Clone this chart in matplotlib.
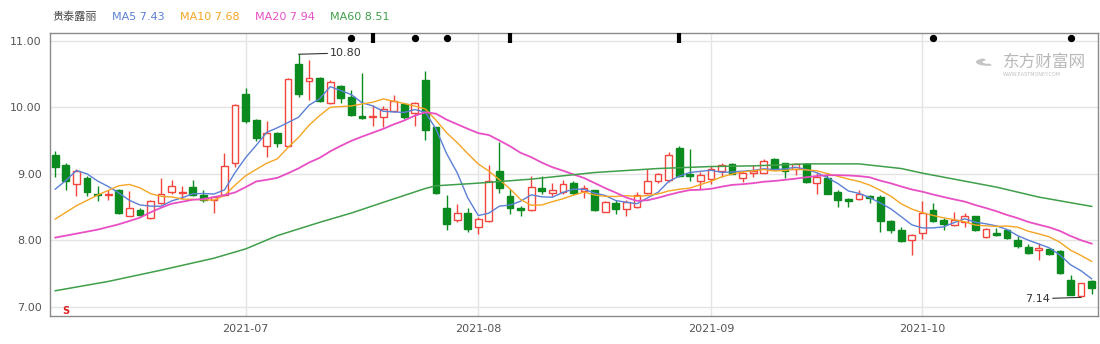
import numpy as np
import pandas as pd
import matplotlib
matplotlib.use("Agg")
import matplotlib.pyplot as plt
import matplotlib.patches as patches

plt.rcParams['font.family'] = ['DejaVu Sans', 'Noto Sans CJK SC']

# 交易日（2021-06-04 ~ 2021-11-01，去掉节假日）
holidays = ['2021-06-14', '2021-09-20', '2021-09-21', '2021-10-01',
            '2021-10-04', '2021-10-05', '2021-10-06', '2021-10-07']
dates = pd.bdate_range('2021-06-04', '2021-11-01')
dates = dates[~dates.isin(pd.to_datetime(holidays))]

opens = [9.29, 9.14, 8.85, 8.94, 8.70, 8.68, 8.76, 8.37, 8.45, 8.33,
         8.56, 8.72, 8.71, 8.80, 8.68, 8.60, 8.68, 9.17, 10.20, 9.81,
         9.42, 9.61, 9.42, 10.66, 10.40, 10.45, 10.06, 10.32, 10.16, 9.87,
         9.85, 9.86, 9.95, 10.05, 9.91, 10.41, 9.70, 8.48, 8.30, 8.41,
         8.20, 8.29, 9.04, 8.66, 8.49, 8.46, 8.78, 8.71, 8.73, 8.86,
         8.74, 8.75, 8.43, 8.56, 8.47, 8.50, 8.71, 8.89, 8.90, 9.39,
         8.99, 8.89, 8.92, 9.04, 9.15, 8.94, 9.01, 9.02, 9.22, 9.16,
         9.08, 9.15, 8.86, 8.93, 8.73, 8.62, 8.62, 8.67, 8.65, 8.29,
         8.16, 8.01, 8.11, 8.46, 8.30, 8.23, 8.28, 8.36, 8.05, 8.11,
         8.16, 8.00, 7.90, 7.86, 7.87, 7.84, 7.40, 7.16, 7.38]
highs = [9.34, 9.16, 9.08, 8.96, 8.82, 8.76, 8.77, 8.74, 8.48, 8.61,
         8.94, 8.90, 8.81, 8.90, 8.75, 8.66, 9.32, 10.05, 10.29, 9.82,
         9.79, 9.63, 10.44, 10.80, 10.72, 10.46, 10.42, 10.34, 10.26, 10.52,
         10.03, 10.02, 10.18, 10.06, 10.08, 10.55, 9.71, 8.68, 8.55, 8.48,
         8.35, 9.14, 9.48, 8.77, 8.51, 8.97, 8.96, 8.86, 8.90, 8.89,
         8.83, 8.76, 8.59, 8.60, 8.60, 8.72, 9.08, 9.02, 9.33, 9.42,
         9.37, 9.03, 9.12, 9.16, 9.16, 9.04, 9.13, 9.22, 9.24, 9.17,
         9.16, 9.16, 9.01, 9.02, 8.76, 8.63, 8.76, 8.68, 8.68, 8.31,
         8.20, 8.09, 8.59, 8.56, 8.34, 8.43, 8.41, 8.37, 8.18, 8.18,
         8.17, 8.06, 7.94, 7.96, 7.89, 7.85, 7.48, 7.36, 7.40]
lows = [8.95, 8.75, 8.67, 8.66, 8.59, 8.60, 8.40, 8.36, 8.37, 8.32,
        8.54, 8.69, 8.62, 8.67, 8.57, 8.41, 8.67, 9.10, 9.76, 9.50,
        9.25, 9.40, 9.40, 10.16, 10.11, 10.08, 10.05, 10.07, 9.87, 9.82,
        9.72, 9.70, 9.93, 9.83, 9.72, 9.51, 8.70, 8.15, 8.28, 8.12,
        8.10, 8.27, 8.71, 8.39, 8.36, 8.44, 8.70, 8.67, 8.70, 8.68,
        8.63, 8.44, 8.42, 8.39, 8.37, 8.49, 8.69, 8.86, 8.87, 8.95,
        8.89, 8.77, 8.84, 8.95, 8.99, 8.87, 8.95, 9.01, 9.06, 8.93,
        8.98, 8.86, 8.70, 8.69, 8.50, 8.50, 8.61, 8.56, 8.13, 8.11,
        7.98, 7.78, 8.02, 8.28, 8.16, 8.21, 8.20, 8.14, 8.04, 8.07,
        8.02, 7.88, 7.79, 7.71, 7.78, 7.49, 7.17, 7.14, 7.19]
closes = [9.11, 8.89, 9.05, 8.73, 8.68, 8.70, 8.41, 8.49, 8.38, 8.59,
          8.69, 8.81, 8.73, 8.68, 8.61, 8.65, 9.12, 10.04, 9.80, 9.54,
          9.62, 9.47, 10.43, 10.20, 10.45, 10.10, 10.38, 10.14, 9.89, 9.84,
          9.87, 9.97, 10.09, 9.85, 10.06, 9.66, 8.71, 8.25, 8.41, 8.17,
          8.32, 8.89, 8.78, 8.49, 8.46, 8.80, 8.74, 8.75, 8.85, 8.71,
          8.79, 8.45, 8.57, 8.47, 8.58, 8.68, 8.89, 8.99, 9.29, 8.97,
          8.96, 8.98, 9.07, 9.13, 9.00, 9.02, 9.04, 9.19, 9.07, 9.05,
          9.15, 8.87, 8.95, 8.70, 8.60, 8.59, 8.69, 8.64, 8.29, 8.16,
          7.99, 8.08, 8.41, 8.29, 8.24, 8.31, 8.37, 8.15, 8.17, 8.08,
          8.04, 7.91, 7.81, 7.88, 7.79, 7.50, 7.18, 7.35, 7.28]

# 区间开始前的均线读数（窗口未满的部分）
ma5_head = [8.77, 8.90, 9.05, 9.00]
ma10_head = [8.32, 8.42, 8.52, 8.60, 8.68, 8.75, 8.82, 8.84, 8.79]
ma20_head = [8.04, 8.07, 8.10, 8.13, 8.16, 8.20, 8.24, 8.29, 8.34, 8.42,
             8.49, 8.55, 8.58, 8.61, 8.62, 8.65, 8.68, 8.72, 8.80]
# MA60 取样点
ma60_idx = [0, 5, 10, 15, 18, 21, 25, 28, 31, 35, 36, 40, 45, 51, 57, 62,
            66, 71, 76, 80, 82, 89, 93, 98]
ma60_val = [7.24, 7.38, 7.55, 7.73, 7.87, 8.07, 8.27, 8.41, 8.57, 8.78,
            8.82, 8.86, 8.92, 9.02, 9.08, 9.11, 9.12, 9.15, 9.15, 9.08,
            9.01, 8.80, 8.65, 8.51]

stock_name = "贵泰露丽"
legend_vals = ["7.43", "7.68", "7.94", "8.51"]
event_dots = [28, 34, 37, 83, 96]
event_bars = [30, 43, 59]

UP = '#f2453d'
DOWN = '#0b8a1f'
C5, C10, C20, C60 = '#5b80d6', '#f5a524', '#e84fc4', '#3f9f4a'


def moving_avg(vals, n, head):
    s = pd.Series(vals).rolling(n).mean().to_numpy()
    s[:len(head)] = head
    return s


ma5 = moving_avg(closes, 5, ma5_head)
ma10 = moving_avg(closes, 10, ma10_head)
ma20 = moving_avg(closes, 20, ma20_head)

fig = plt.figure(figsize=(11, 3.44), dpi=100)
ax = fig.add_axes([50 / 1100, 28 / 344, 1048 / 1100, 283 / 344])

x = np.arange(len(closes))
o = np.array(opens); h = np.array(highs); l = np.array(lows); c = np.array(closes)
up = c >= o

# 影线
ax.vlines(x[up], l[up], h[up], color=UP, lw=1, zorder=2)
ax.vlines(x[~up], l[~up], h[~up], color=DOWN, lw=1, zorder=2)
# 实体
body_lo = np.minimum(o, c)
body_h = np.maximum(np.abs(c - o), 0.015)
ax.bar(x[up], body_h[up], bottom=body_lo[up], width=0.64, facecolor='white',
       edgecolor=UP, lw=1, zorder=3)
ax.bar(x[~up], body_h[~up], bottom=body_lo[~up], width=0.64, facecolor=DOWN,
       edgecolor=DOWN, lw=1, zorder=3)

# 均线
ax.plot(x, ma5, color=C5, lw=1, zorder=4)
ax.plot(x, ma10, color=C10, lw=1, zorder=4)
ax.plot(x, ma20, color=C20, lw=1.3, zorder=4)
ax.plot(ma60_idx, ma60_val, color=C60, lw=1.1, zorder=4)

# 最高/最低价标注
imax = int(np.argmax(h)); imin = int(np.argmin(l))
ax.annotate(f"{h[imax]:.2f}", xy=(imax, h[imax]), xytext=(imax + 3.0, h[imax] + 0.02),
            fontsize=8, color='#333333', va='center', ha='left',
            arrowprops=dict(arrowstyle='-', color='#333333', lw=0.8, shrinkA=0, shrinkB=0))
ax.annotate(f"{l[imin]:.2f}", xy=(imin, l[imin]), xytext=(imin - 5.3, l[imin] - 0.02),
            fontsize=8, color='#333333', va='center', ha='left',
            arrowprops=dict(arrowstyle='-', color='#333333', lw=0.8, shrinkA=0, shrinkB=0))

# 顶部事件标记
ax.scatter(event_dots, [11.045] * len(event_dots), s=18, color='black', zorder=6, clip_on=False)
ax.scatter(event_bars, [11.045] * len(event_bars), marker='|', s=55, linewidths=3,
           color='black', zorder=6, clip_on=False)
ax.text(1, 6.93, "S", color='#e02020', fontsize=7, fontweight='bold', ha='center', va='center')

# 坐标轴
ax.set_xlim(-0.5, 98.6)
ax.set_ylim(6.86, 11.12)
ax.set_yticks([7, 8, 9, 10, 11])
ax.set_yticklabels([f"{v:.2f}" for v in [7, 8, 9, 10, 11]])
month_first = [i for i in range(1, len(dates)) if dates[i].month != dates[i - 1].month]
month_first = [i for i in month_first if dates[i].month <= 10]
ax.set_xticks(month_first)
ax.set_xticklabels([dates[i].strftime('%Y-%m') for i in month_first])
ax.tick_params(length=0, labelsize=8, colors='#555555', pad=6)
ax.grid(True, color='#e4e4e4', lw=1)
ax.set_axisbelow(True)
for sp in ax.spines.values():
    sp.set_color('#8a8a8a')
    sp.set_linewidth(1)

# 图例文字
fig.text(52 / 1100, 0.95, stock_name, fontsize=8, color='#444444', va='center',
         family=['Noto Sans CJK SC', 'DejaVu Sans'])
for xp, name, val, col in zip([112, 180, 255, 330], ['MA5', 'MA10', 'MA20', 'MA60'],
                              legend_vals, [C5, C10, C20, C60]):
    fig.text(xp / 1100, 0.95, f"{name} {val}", fontsize=8, color=col, va='center')

# 水印
logo = patches.Wedge((988 / 1100, 1 - 62 / 344), 0.011, 110, 290, width=0.006,
                     transform=fig.transFigure, facecolor='#c4c4c4', edgecolor='none')
fig.patches.append(logo)
fig.text(1003 / 1100, 1 - 62 / 344, "东方财富网", fontsize=12, color='#b8b8b8', va='center',
         family=['Noto Sans CJK SC', 'DejaVu Sans'])
fig.text(1003 / 1100, 1 - 75 / 344, "WWW.EASTMONEY.COM", fontsize=3.5, color='#c0c0c0',
         va='center')

fig.savefig("out.png", dpi=100)
